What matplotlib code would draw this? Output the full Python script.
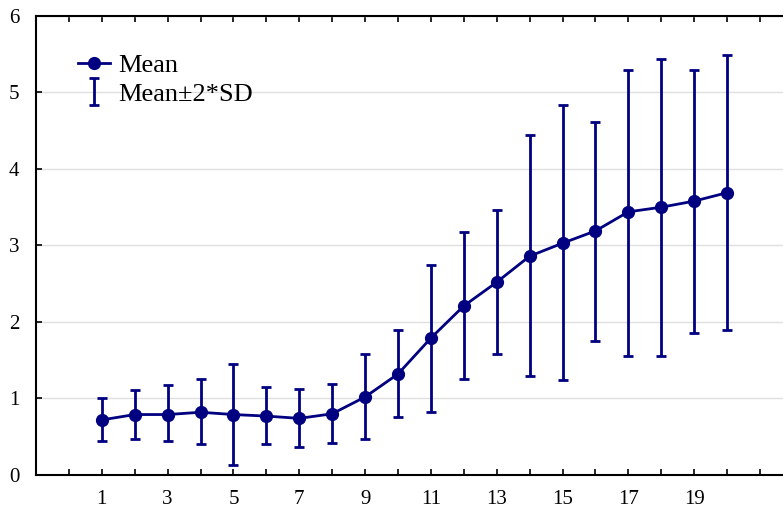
import numpy as np
import matplotlib.pyplot as plt

# values
steps = list(range(1, 21))
mean = [0.72, 0.79, 0.79, 0.82, 0.79, 0.77, 0.74, 0.80, 1.02, 1.32,
        1.79, 2.21, 2.52, 2.86, 3.03, 3.19, 3.44, 3.50, 3.58, 3.69]
lower = [0.44, 0.47, 0.44, 0.41, 0.13, 0.41, 0.37, 0.42, 0.47, 0.76,
         0.82, 1.26, 1.58, 1.29, 1.24, 1.75, 1.56, 1.56, 1.85, 1.90]
upper = [1.00, 1.11, 1.17, 1.26, 1.45, 1.15, 1.12, 1.19, 1.58, 1.89,
         2.75, 3.17, 3.46, 4.44, 4.83, 4.61, 5.30, 5.44, 5.30, 5.49]

navy = '#000080'
plt.rcParams['font.family'] = ['Liberation Serif', 'DejaVu Serif']

fig = plt.figure(figsize=(7.83, 5.12), dpi=100)
ax = fig.add_axes([0.046, 0.0723, 0.954, 0.8965])

m = np.array(mean)
err = [m - np.array(lower), np.array(upper) - m]

ax.plot(steps, mean, color=navy, lw=2, marker='o', ms=8.5, label='Mean', zorder=3)
ax.errorbar(steps, mean, yerr=err, fmt='none', ecolor=navy, elinewidth=2,
            capsize=3.5, capthick=2, label='Mean\u00b12*SD', zorder=2)

ax.set_xlim(-1, 21.7)
ax.set_ylim(0, 6)
ax.set_xticks(range(1, 20, 2))
ax.set_xticks(range(0, 22), minor=True)
ax.set_yticks(range(0, 7))
ax.yaxis.grid(True, color='#e0e0e0', lw=1)
ax.set_axisbelow(True)

ax.tick_params(axis='both', which='both', direction='in', length=4, width=1.2,
               labelsize=15, top=True, right=False, color='black')
ax.tick_params(axis='x', which='major', pad=11)
ax.tick_params(axis='y', pad=12)
ax.spines['right'].set_visible(False)
for s in ['left', 'bottom', 'top']:
    ax.spines[s].set_linewidth(1.5)

ax.legend(loc='upper left', bbox_to_anchor=(0.025, 0.97), frameon=False,
          fontsize=19, handlelength=1.2, handletextpad=0.3, labelspacing=0.2)

fig.savefig('out.png', dpi=100)
